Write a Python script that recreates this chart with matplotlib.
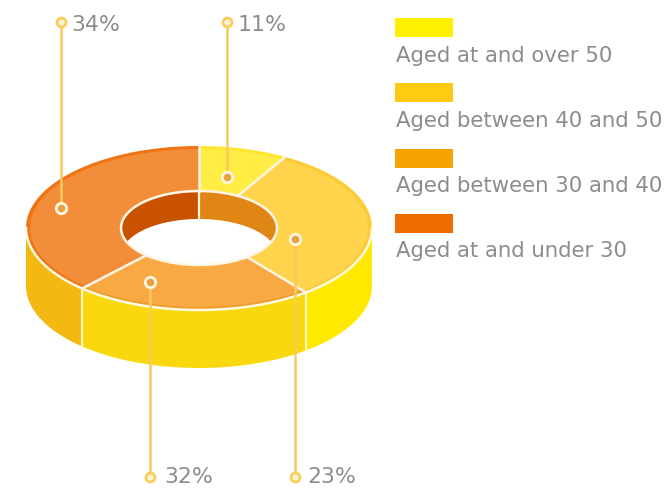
import numpy as np
import matplotlib.pyplot as plt
from matplotlib.patches import Rectangle

plt.rcParams['font.family'] = ['DejaVu Sans']

# clockwise from the top, as drawn (the sweeps do not follow the printed percents)
labels = ['11%', '23%', '32%', '34%']
sweep_share = [8.3, 31.1, 22.4, 38.2]
face_colors = ['#FFEC45', '#FFD34B', '#F9A944', '#F28D3A']
rim_colors = ['#FFE62E', '#FCCB36', '#EE9C2A', '#EF7413']
wall_colors = ['#FFE900', '#FFE900', '#F9D80F', '#F3B912']
inner_wall_colors = ['#DF8614', '#C95200']
legend_labels = ['Aged at and over 50', 'Aged between 40 and 50',
                 'Aged between 30 and 40', 'Aged at and under 30']
legend_colors = ['#FFF000', '#FFCB10', '#F6A200', '#EE6C00']

cx, cy = 199, 228
a, b = 173, 82
ia, ib = 78, 37
depth = 58
inner_depth = 28
line_col = '#FBC95A'
text_col = '#8C8C8C'


def ell(t, ra, rb, dy=0):
    t = np.radians(t)
    return cx + ra * np.sin(t), cy - rb * np.cos(t) + dy


def ring(t0, t1, ra, rb):
    t = np.linspace(t0, t1, 80)
    x1, y1 = ell(t, ra, rb)
    x2, y2 = ell(t[::-1], ia, ib)
    return np.r_[x1, x2], np.r_[y1, y2]


fig = plt.figure(figsize=(6.68, 4.91), dpi=100)
ax = fig.add_axes([0, 0, 1, 1])
ax.set_xlim(0, 668)
ax.set_ylim(491, 0)
ax.axis('off')

edges = 3.6 * np.r_[0, np.cumsum(sweep_share)]

# outer wall
for i, col in enumerate(wall_colors):
    t0, t1 = max(edges[i], 90), min(edges[i + 1], 270)
    if t1 <= t0:
        continue
    t = np.linspace(t0, t1, 80)
    x1, y1 = ell(t, a, b)
    x2, y2 = ell(t[::-1], a, b, depth)
    ax.fill(np.r_[x1, x2], np.r_[y1, y2], color=col, lw=0, zorder=1)
for e in edges[2:4]:
    x, y = ell(e, a, b)
    ax.plot([x, x], [y, y + depth], color='#FFF7C8', lw=1.6, zorder=2)

# top faces
for i in range(4):
    ax.fill(*ring(edges[i], edges[i + 1], a, b), color=rim_colors[i], lw=0, zorder=3)
    ax.fill(*ring(edges[i], edges[i + 1], a - 4, b - 3), color=face_colors[i], lw=0, zorder=4)

# white edge along the front of the top face
t = np.linspace(90, 270, 200)
ax.plot(*ell(t, a, b), color='#FFFBE0', lw=1.8, zorder=5)

# hole: back wall and white opening
t = np.linspace(0, 360, 300)
hx, hy = ell(t, ia, ib)
hole = ax.fill(hx, hy, color='white', lw=0, zorder=6)[0]
for col, t0, t1 in [(inner_wall_colors[0], 0, 90), (inner_wall_colors[1], 270, 360)]:
    s = np.linspace(t0, t1, 80)
    x1, y1 = ell(s, ia, ib)
    x2, y2 = ell(s, ia, ib)
    wall = ax.fill_between(x1, y1, y2 + inner_depth, color=col, lw=0, zorder=7)
    wall.set_clip_path(hole.get_path(), hole.get_transform())
sx, sy = ell(t, ia, ib, inner_depth)
white = ax.fill(sx, sy, color='white', lw=0, zorder=8)[0]
white.set_clip_path(hole.get_path(), hole.get_transform())
ax.plot(hx, hy, color='#FFF6E6', lw=1.8, zorder=9)
x0, y0 = ell(0, ia, ib)
ax.plot([x0, x0], [y0, y0 + inner_depth], color='#FFF0D8', lw=1.6, zorder=9)

# separators on the top face
for e in edges[:4]:
    x, y = zip(ell(e, a, b), ell(e, ia, ib))
    ax.plot(x, y, color='#FFF6E6', lw=1.8, zorder=9)

# leader lines, pins and percent labels
pin_frac = [0.49, 0.66, 0.76, 0.47]
pin_r = [0.643, 0.571, 0.72, 0.834]
leader_end = [22, 474, 474, 22]
label_dx = [10, 12, 14, 10]
for i, lab in enumerate(labels):
    ang = edges[i] + pin_frac[i] * (edges[i + 1] - edges[i])
    px, py = ell(ang, a * pin_r[i], b * pin_r[i])
    ax.plot([px, px], [py, leader_end[i]], color=line_col, lw=1.8, zorder=10)
    ax.plot(px, py, 'o', ms=7.5, mfc='#E8A040', mec='#FFF6E0', mew=2, zorder=11)
    ax.plot(px, leader_end[i] + (3 if leader_end[i] > 200 else 0), 'o', ms=6.5,
            mfc='#FFF4D0', mec='#FBCB55', mew=1.9, zorder=11)
    ax.text(px + label_dx[i], leader_end[i] + 3, lab, color=text_col, fontsize=15.8,
            va='center', ha='left', zorder=12)

# legend
for i, (lab, col) in enumerate(zip(legend_labels, legend_colors)):
    y = 18 + i * 65.3
    ax.add_patch(Rectangle((395, y), 58, 19, color=col, lw=0))
    ax.text(396, y + 37.5, lab, color=text_col, fontsize=15.3, va='center', ha='left')

fig.savefig('out.png', dpi=100)
